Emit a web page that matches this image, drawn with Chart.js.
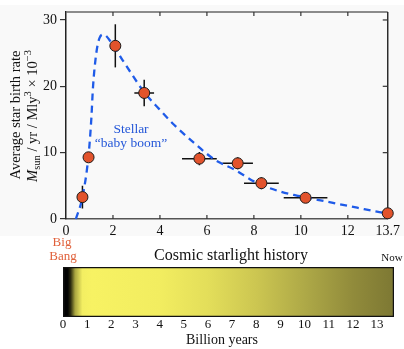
<!DOCTYPE html>
<html>
<head>
<meta charset="utf-8">
<script src="https://cdn.jsdelivr.net/npm/chart.js@4.4.1/dist/chart.umd.min.js"></script>
<style>
    html, body { margin: 0; padding: 0; background: #fff; }
    #page { position: relative; width: 404px; height: 349px; overflow: hidden; }
    #shade { position: absolute; left: 0; top: 5px; width: 404px; height: 231px; background: #f9f9f9; }
    #rate_canvas { position: absolute; left: 0; top: 0; }
    #history_canvas { position: absolute; left: 0; top: 235px; }
</style>
</head>
<body>
<div id="page">
    <div id="shade"></div>
    <canvas id="rate_canvas" width="404" height="240"></canvas>
    <canvas id="history_canvas" width="404" height="114"></canvas>
</div>
<script>
// measured star birth rate (billion years after big bang, rate x 1e-3)
const point_ages = [0.70, 0.96, 2.10, 3.33, 5.68, 7.31, 8.32, 10.2, 13.7];
const point_rates = [3.3, 9.3, 26.1, 19.0, 9.1, 8.4, 5.4, 3.2, 0.86];
const age_errors = [0.15, 0, 0, 0.42, 0.74, 0.65, 0.74, 0.93, 0];
const rate_errors = [1.7, 0.6, 3.25, 2.0, 1.0, 0.9, 0.9, 0.5, 0];

// dashed "baby boom" model curve
const curve_ages = [0.42, 0.7, 0.96, 1.08, 1.15, 1.29, 1.43, 1.6, 1.93, 2.4, 2.77, 3.33, 3.96, 4.6, 5.44, 6.35, 7.2, 8.04, 9.15, 9.87, 10.71, 11.55, 12.4, 13.24, 13.7];
const curve_rates = [0, 3.3, 9.6, 15.2, 19.9, 25.0, 27.3, 27.8, 26.6, 24.0, 22.0, 19.1, 16.6, 14.2, 11.5, 8.9, 7.4, 5.6, 4.1, 3.5, 2.9, 2.3, 1.7, 1.1, 0.86];

const age_ticks = [0, 2, 4, 6, 8, 10, 12, 13.7];
const rate_ticks = [0, 10, 20, 30];
const history_ticks = [0, 1, 2, 3, 4, 5, 6, 7, 8, 9, 10, 11, 12, 13];
const history_span = [[0, 13.7]];

const serif = "'Liberation Serif', 'Times New Roman', serif";
Chart.defaults.font.family = serif;
Chart.defaults.color = '#111';

const error_bars = {
    id: 'error_bars',
    beforeDatasetsDraw(chart) {
        const {ctx, chartArea, scales: {x, y}} = chart;
        ctx.save();

        // plot frame, top and right
        ctx.lineWidth = 1.4;
        ctx.strokeStyle = '#666';
        ctx.beginPath();
        ctx.moveTo(chartArea.left, chartArea.top);
        ctx.lineTo(chartArea.right, chartArea.top);
        ctx.stroke();
        ctx.strokeStyle = '#222';
        ctx.beginPath();
        ctx.moveTo(chartArea.right, chartArea.top);
        ctx.lineTo(chartArea.right, chartArea.bottom);
        ctx.stroke();

        // inward ticks
        ctx.lineWidth = 1.2;
        ctx.strokeStyle = '#333';
        for (const v of age_ticks) {
            if (v === 0 || v === 13.7) {continue;}
            const px = x.getPixelForValue(v);
            ctx.beginPath();
            ctx.moveTo(px, chartArea.bottom);
            ctx.lineTo(px, chartArea.bottom - 4);
            ctx.moveTo(px, chartArea.top);
            ctx.lineTo(px, chartArea.top + 4);
            ctx.stroke();
        }
        for (const v of rate_ticks) {
            if (v === 0) {continue;}
            const py = y.getPixelForValue(v);
            ctx.beginPath();
            ctx.moveTo(chartArea.right, py);
            ctx.lineTo(chartArea.right - 5, py);
            ctx.stroke();
        }

        ctx.strokeStyle = '#111';
        ctx.lineWidth = 1.5;
        for (let i = 0; i < point_ages.length; i++) {
            const px = x.getPixelForValue(point_ages[i]);
            const py = y.getPixelForValue(point_rates[i]);
            ctx.beginPath();
            if (age_errors[i] > 0) {
                ctx.moveTo(x.getPixelForValue(point_ages[i] - age_errors[i]), py);
                ctx.lineTo(x.getPixelForValue(point_ages[i] + age_errors[i]), py);
            }
            if (rate_errors[i] > 0) {
                ctx.moveTo(px, y.getPixelForValue(point_rates[i] - rate_errors[i]));
                ctx.lineTo(px, y.getPixelForValue(point_rates[i] + rate_errors[i]));
            }
            ctx.stroke();
        }
        ctx.restore();
    }
};

function draw_rich_line(ctx, parts, base_x, center_y) {
    let total = 0;
    for (const p of parts) {
        ctx.font = (p.italic ? 'italic ' : '') + p.size + 'px ' + serif;
        total += ctx.measureText(p.text).width;
    }
    ctx.save();
    ctx.translate(base_x, center_y);
    ctx.rotate(-Math.PI / 2);
    ctx.textBaseline = 'alphabetic';
    ctx.textAlign = 'left';
    let pos = -total / 2;
    for (const p of parts) {
        ctx.font = (p.italic ? 'italic ' : '') + p.size + 'px ' + serif;
        ctx.fillText(p.text, pos, p.shift);
        pos += ctx.measureText(p.text).width;
    }
    ctx.restore();
}

const rate_labels = {
    id: 'rate_labels',
    afterDraw(chart) {
        const ctx = chart.ctx;
        ctx.save();
        ctx.fillStyle = '#111';
        draw_rich_line(ctx, [{text: 'Average star birth rate', size: 14.5, italic: false, shift: 0}], 20, 115);
        draw_rich_line(ctx, [
            {text: 'M', size: 14.5, italic: true, shift: 0},
            {text: 'sun', size: 10.5, italic: false, shift: 3},
            {text: ' / yr / Mly', size: 14.5, italic: false, shift: 0},
            {text: '3', size: 10.5, italic: false, shift: -6},
            {text: ' \u00d7 10', size: 14.5, italic: false, shift: 0},
            {text: '\u22123', size: 10.5, italic: false, shift: -6}
        ], 37, 116);

        ctx.fillStyle = '#2457d8';
        ctx.font = '13.5px ' + serif;
        ctx.textAlign = 'center';
        ctx.textBaseline = 'middle';
        ctx.fillText('Stellar', 131, 129);
        ctx.fillText('\u201cbaby boom\u201d', 131, 143);
        ctx.restore();
    }
};

let rate_plot;

function setup_rate_plot() {
    let data = {
        datasets: [
            {
                label: 'measured',
                data: point_ages.map((a, i) => ({x: a, y: point_rates[i]})),
                showLine: false,
                pointRadius: 5.5,
                pointBackgroundColor: '#e2532c',
                pointBorderColor: '#1a1a1a',
                pointBorderWidth: 1,
                clip: false
            },
            {
                label: 'model',
                data: curve_ages.map((a, i) => ({x: a, y: curve_rates[i]})),
                showLine: true,
                pointRadius: 0,
                borderColor: '#1f5be8',
                borderWidth: 2.3,
                borderDash: [7, 5],
                cubicInterpolationMode: 'monotone',
                clip: false
            }
        ]
    };

    let config = {
        type: 'scatter',
        data: data,
        options: {
            responsive: false,
            animation: false,
            layout: {padding: {left: 0, right: 13, top: 12, bottom: 0}},
            plugins: {
                legend: {display: false},
                tooltip: {enabled: false}
            },
            scales: {
                x: {
                    type: 'linear',
                    min: 0,
                    max: 13.7,
                    afterBuildTicks: (scale) => { scale.ticks = age_ticks.map(v => ({value: v})); },
                    afterFit: (scale) => { scale.height = 21; },
                    grid: {drawOnChartArea: false, drawTicks: false},
                    border: {display: true, color: '#555', width: 1.6},
                    ticks: {
                        autoSkip: false,
                        maxRotation: 0,
                        padding: 4,
                        font: {size: 14},
                        callback: (v) => String(v)
                    }
                },
                y: {
                    type: 'linear',
                    min: 0,
                    max: 31.2,
                    afterBuildTicks: (scale) => { scale.ticks = rate_ticks.map(v => ({value: v})); },
                    afterFit: (scale) => { scale.width = 66; },
                    grid: {drawOnChartArea: false, drawTicks: true, tickLength: 6, color: '#333', lineWidth: 1.2},
                    border: {display: true, color: '#222', width: 1.5},
                    ticks: {
                        padding: 3,
                        font: {size: 14},
                        callback: (v) => String(v)
                    }
                }
            }
        },
        plugins: [error_bars, rate_labels]
    };

    rate_plot = new Chart(document.getElementById('rate_canvas'), config);
}

// colour of the sky's starlight along the age axis
const starlight_stops = [
    [0, '#000000'], [0.2, '#030302'], [0.32, '#2e2d10'], [0.5, '#a9a540'], [0.8, '#f3ee62'],
    [1.2, '#f7f263'], [4, '#f2ed60'], [6, '#e3de5a'], [8, '#ccc651'], [10, '#aea947'],
    [12, '#918b3b'], [13.7, '#7d7833']
];

function starlight_gradient(chart) {
    const area = chart.chartArea;
    if (!area) {return '#f5f062';}
    const x = chart.scales.x;
    const x0 = x.getPixelForValue(0);
    const x1 = x.getPixelForValue(13.7);
    const gradient = chart.ctx.createLinearGradient(x0, 0, x1, 0);
    for (const [age, color] of starlight_stops) {
        gradient.addColorStop(age / 13.7, color);
    }
    return gradient;
}

const history_labels_plugin = {
    id: 'history_labels',
    afterDraw(chart) {
        const ctx = chart.ctx;
        ctx.save();
        ctx.textAlign = 'center';
        ctx.textBaseline = 'middle';

        ctx.fillStyle = '#e0603a';
        ctx.font = '13px ' + serif;
        ctx.fillText('Big', 62, 8);
        ctx.fillText('Bang', 63, 22);

        ctx.fillStyle = '#111';
        ctx.font = '16px ' + serif;
        ctx.fillText('Cosmic starlight history', 231, 21);

        ctx.font = '11px ' + serif;
        ctx.fillText('Now', 392, 23);

        ctx.font = '14px ' + serif;
        ctx.fillText('Billion years', 222, 105);
        ctx.restore();
    }
};

let history_plot;

function setup_history_plot() {
    let data = {
        labels: ['starlight'],
        datasets: [{
            data: history_span,
            backgroundColor: (context) => starlight_gradient(context.chart),
            borderColor: '#111',
            borderWidth: 1.6,
            borderSkipped: false,
            barPercentage: 1,
            categoryPercentage: 1
        }]
    };

    let config = {
        type: 'bar',
        data: data,
        options: {
            indexAxis: 'y',
            responsive: false,
            animation: false,
            layout: {padding: {left: 63, right: 10, top: 32, bottom: 0}},
            plugins: {
                legend: {display: false},
                tooltip: {enabled: false}
            },
            scales: {
                x: {
                    type: 'linear',
                    min: 0,
                    max: 13.7,
                    afterBuildTicks: (scale) => { scale.ticks = history_ticks.map(v => ({value: v})); },
                    afterFit: (scale) => { scale.height = 32; },
                    grid: {display: false, drawTicks: false},
                    border: {display: false},
                    ticks: {
                        autoSkip: false,
                        maxRotation: 0,
                        padding: 0,
                        font: {size: 13},
                        callback: (v) => String(v)
                    }
                },
                y: {display: false}
            }
        },
        plugins: [history_labels_plugin]
    };

    history_plot = new Chart(document.getElementById('history_canvas'), config);
}

setup_rate_plot();
setup_history_plot();
</script>
</body>
</html>
